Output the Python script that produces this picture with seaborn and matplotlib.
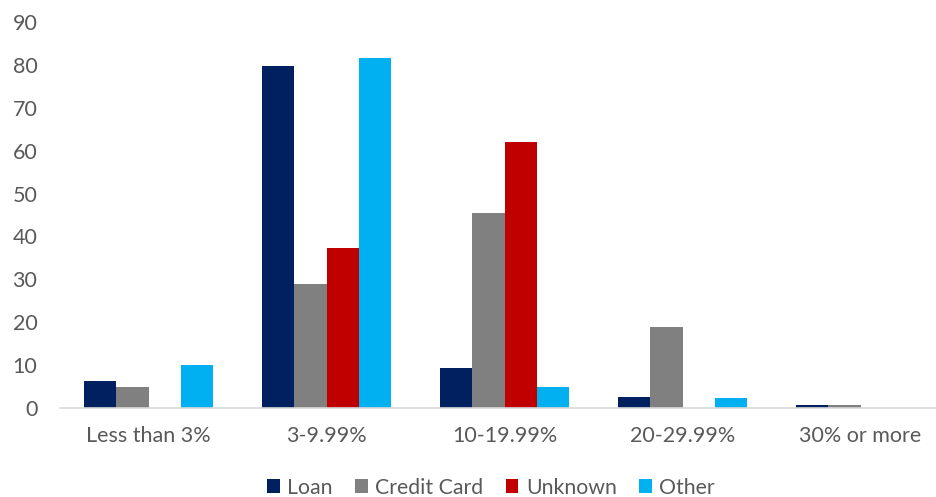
import matplotlib
matplotlib.use("Agg")
import matplotlib.pyplot as plt
import seaborn as sns
import pandas as pd

categories = ["Less than 3%", "3-9.99%", "10-19.99%", "20-29.99%", "30% or more"]
series_names = ["Loan", "Credit Card", "Unknown", "Other"]
loan = [6.3, 79.8, 9.3, 2.6, 0.8]
credit_card = [4.8, 28.8, 45.5, 18.9, 0.6]
unknown = [0, 37.2, 62.1, 0, 0]
other = [10.0, 81.6, 4.9, 2.3, 0]
colors = ["#002060", "#808080", "#C00000", "#00B0F0"]
y_ticks = list(range(0, 100, 10))

rows = []
for name, vals in zip(series_names, [loan, credit_card, unknown, other]):
    for cat, v in zip(categories, vals):
        rows.append({"Range": cat, "Type": name, "Value": v})
df = pd.DataFrame(rows)

sns.set_style("white")
plt.rcParams["font.family"] = ["Lato", "DejaVu Sans"]

fig = plt.figure(figsize=(9.36, 4.97), dpi=100)
# plot area runs slightly past the right edge of the canvas
ax = fig.add_axes([59.5 / 936, 1 - 408 / 497, 890 / 936, 386 / 497])

sns.barplot(data=df, x="Range", y="Value", hue="Type", order=categories,
            hue_order=series_names, palette=colors, width=0.725,
            saturation=1, linewidth=0, ax=ax, legend=True)

ax.set_ylim(0, 90)
ax.set_yticks(y_ticks)
ax.set_xlim(-0.5, len(categories) - 0.5)
ax.set_xlabel("")
ax.set_ylabel("")
ax.tick_params(axis="both", length=0, labelsize=15.5, labelcolor="#595959")
ax.tick_params(axis="x", pad=13)
ax.tick_params(axis="y", pad=16)
for s in ["top", "right", "left"]:
    ax.spines[s].set_visible(False)
ax.spines["bottom"].set_color("#D9D9D9")
ax.spines["bottom"].set_linewidth(1.2)

handles, labels = ax.get_legend_handles_labels()
ax.legend_.remove()
fig.legend(handles, labels, loc="center", bbox_to_anchor=(0.5246, 0.019),
           ncol=4, frameon=False, fontsize=15.3, labelcolor="#595959",
           handlelength=0.6, handleheight=0.6, handletextpad=0.35,
           columnspacing=1.05)

fig.savefig("out.png", dpi=100, facecolor="white")
